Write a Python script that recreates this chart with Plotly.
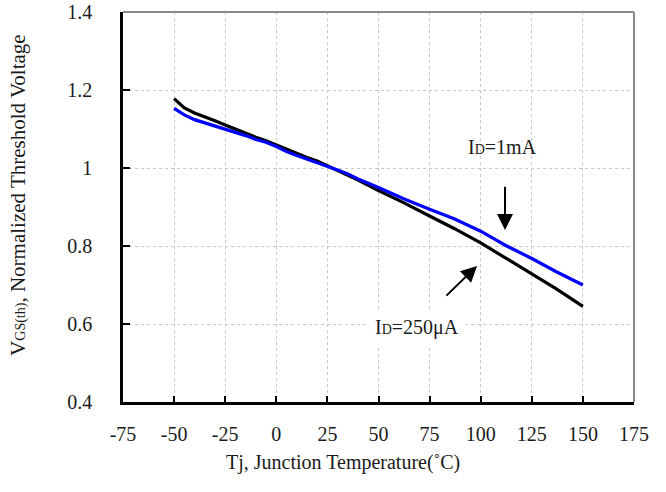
import plotly.graph_objects as go

temp = [-50, -45, -40, -35, -30, -25, -20, -15, -10, -5, 0, 5, 10, 15, 20, 25, 30, 35, 40,
        50, 62, 75, 87, 100, 112, 125, 137, 150]
v_250uA = [1.178, 1.154, 1.141, 1.132, 1.121, 1.110, 1.099, 1.089, 1.079, 1.070, 1.059, 1.047,
           1.036, 1.027, 1.018, 1.006, 0.995, 0.982, 0.969, 0.942, 0.912, 0.877, 0.845, 0.808,
           0.770, 0.728, 0.690, 0.645]
v_1mA = [1.153, 1.136, 1.124, 1.116, 1.106, 1.099, 1.091, 1.083, 1.073, 1.066, 1.055, 1.042,
         1.032, 1.023, 1.015, 1.005, 0.995, 0.985, 0.972, 0.950, 0.922, 0.894, 0.870, 0.838,
         0.802, 0.768, 0.734, 0.700]

x_ticks = [-75, -50, -25, 0, 25, 50, 75, 100, 125, 150, 175]
x_tick_labels = ["-75", "-50", "-25", "0", "25", "50", "75", "100", "125", "150", "175"]
y_ticks = [0.4, 0.6, 0.8, 1.0, 1.2, 1.4]
y_tick_labels = ["0.4", "0.6", "0.8", "1", "1.2", "1.4"]

FONT = "Liberation Serif, Times New Roman, serif"
TXT = "#1a1a1a"

fig = go.Figure()
fig.add_trace(go.Scatter(x=temp, y=v_250uA, mode="lines", line=dict(color="#000000", width=3.2),
                         name="ID=250uA", showlegend=False))
fig.add_trace(go.Scatter(x=temp, y=v_1mA, mode="lines", line=dict(color="#0000ff", width=3.2),
                         name="ID=1mA", showlegend=False))

fig.update_layout(
    width=666, height=492,
    margin=dict(l=123, r=32, t=12, b=90, autoexpand=False),
    paper_bgcolor="white", plot_bgcolor="white",
    font=dict(family=FONT, size=19, color=TXT),
    xaxis=dict(range=[-75, 175], tickvals=x_ticks, ticktext=x_tick_labels, ticks="inside",
               ticklen=6, tickwidth=2, tickcolor="black", showline=True, linecolor="black",
               linewidth=2.5, showgrid=True, gridcolor="#c8c8c8", griddash="dot", gridwidth=1,
               zeroline=False, automargin=False, ticklabelstandoff=12,
               tickfont=dict(family=FONT, size=20, color=TXT)),
    yaxis=dict(range=[0.4, 1.4], tickvals=y_ticks, ticktext=y_tick_labels, ticks="inside",
               ticklen=7, tickwidth=2, tickcolor="black", showline=True, linecolor="black",
               linewidth=2.5, showgrid=True, gridcolor="#c8c8c8", griddash="dot", gridwidth=1,
               zeroline=False, automargin=False, ticklabelstandoff=24,
               tickfont=dict(family=FONT, size=20, color=TXT)),
)

# axis titles
fig.add_annotation(xref="paper", yref="paper", x=0.43, y=-0.154, xanchor="center", yanchor="middle",
                   text="Tj, Junction Temperature(˚C)", showarrow=False,
                   font=dict(family=FONT, size=20, color=TXT))
fig.add_annotation(xref="paper", yref="paper", x=-0.2055, y=0.531, xanchor="center", yanchor="middle",
                   textangle=-90,
                   text="V<span style='font-size:14px'>GS(th)</span>, Normalized Threshold Voltage",
                   showarrow=False, font=dict(family=FONT, size=21, color=TXT))

# top/right gray frame
fig.add_shape(type="line", xref="paper", yref="paper", x0=0, x1=1, y0=1, y1=1,
              line=dict(color="#8a8a8a", width=2))
fig.add_shape(type="line", xref="paper", yref="paper", x0=1, x1=1, y0=0, y1=1,
              line=dict(color="#8a8a8a", width=2))

# labels
fig.add_annotation(x=110.9, y=1.054, text="I<span style='font-size:14px'>D</span>=1mA",
                   showarrow=False, font=dict(family=FONT, size=20, color=TXT))
fig.add_annotation(x=68.8, y=0.590, text="I<span style='font-size:14px'>D</span>=250μA",
                   showarrow=False, bgcolor="white", borderpad=6,
                   font=dict(family=FONT, size=20, color=TXT))

# arrows
fig.add_annotation(x=111.9, y=0.841, ax=111.9, ay=0.956, xref="x", yref="y", axref="x", ayref="y",
                   text="", showarrow=True, arrowhead=2, arrowsize=1.6, arrowwidth=2,
                   arrowcolor="black", standoff=0)
fig.add_annotation(x=98.2, y=0.749, ax=82.5, ay=0.669, xref="x", yref="y", axref="x", ayref="y",
                   text="", showarrow=True, arrowhead=2, arrowsize=1.6, arrowwidth=2,
                   arrowcolor="black", standoff=0)

fig.write_html("out.html")
